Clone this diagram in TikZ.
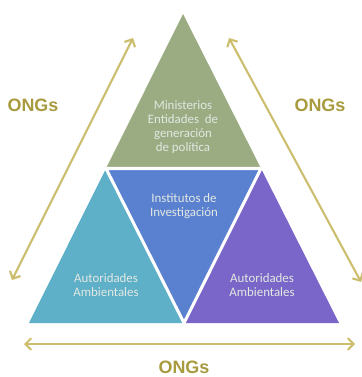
\documentclass[tikz,border=0pt]{standalone}
\usepackage{fontspec}
\setmainfont{Carlito}
\newfontfamily\ongfont{Liberation Sans}
\usetikzlibrary{arrows.meta}
\definecolor{cgreen}{RGB}{155,172,130}
\definecolor{ccyan}{RGB}{94,176,200}
\definecolor{cblue}{RGB}{90,128,208}
\definecolor{cpurple}{RGB}{122,102,200}
\definecolor{cgold}{RGB}{204,190,110}
\definecolor{cong}{RGB}{168,154,62}
\definecolor{ctext}{RGB}{226,232,226}
\tikzset{
  lbl/.style={text=ctext, font=\fontsize{11}{12}\selectfont, align=center, inner sep=0pt},
  ong/.style={text=cong, font=\ongfont\bfseries\fontsize{15.3}{16}\selectfont, inner sep=0pt},
  dbl/.style={draw=cgold, line width=1.8pt, {Straight Barb[length=5pt,width=10pt,line width=1.8pt]}-{Straight Barb[length=5pt,width=10pt,line width=1.8pt]}},
  sep/.style={draw=white, line width=2.6pt, line join=miter}
}
\begin{document}
\begin{tikzpicture}[x=0.03cm,y=-0.03cm]
\useasboundingbox (0,0) rectangle (361,377);
\coordinate (A) at (183,14);
\coordinate (B) at (29,323);
\coordinate (C) at (339,323);
\coordinate (AB) at (106,168.5);
\coordinate (AC) at (261,168.5);
\coordinate (BC) at (184,323);
\fill[cgreen] (A) -- (AC) -- (AB) -- cycle;
\fill[ccyan] (AB) -- (BC) -- (B) -- cycle;
\fill[cblue] (AB) -- (AC) -- (BC) -- cycle;
\fill[cpurple] (AC) -- (C) -- (BC) -- cycle;
\draw[sep] (AB) -- (AC) -- (BC) -- cycle;
\node[lbl] (min) at (183,127.5) {Ministerios\\Entidades\ \ de\\generación\\de política};
\node[lbl] (inst) at (184,206.5) {Institutos de\\Investigación};
\node[lbl] (autl) at (106,285) {Autoridades\\Ambientales};
\node[lbl] (autr) at (262,285) {Autoridades\\Ambientales};
\coordinate (l1) at (12,280);
\coordinate (l2) at (133,38);
\coordinate (r1) at (229,38);
\coordinate (r2) at (361,282);
\coordinate (b1) at (24,344);
\coordinate (b2) at (355,344);
\draw[dbl] (l1) -- (l2);
\draw[dbl] (r1) -- (r2);
\draw[dbl] (b1) -- (b2);
\node[ong] (ongl) at (33,105) {ONGs};
\node[ong] (ongr) at (320,105) {ONGs};
\node[ong] (ongb) at (184,367) {ONGs};
\end{tikzpicture}
\end{document}
